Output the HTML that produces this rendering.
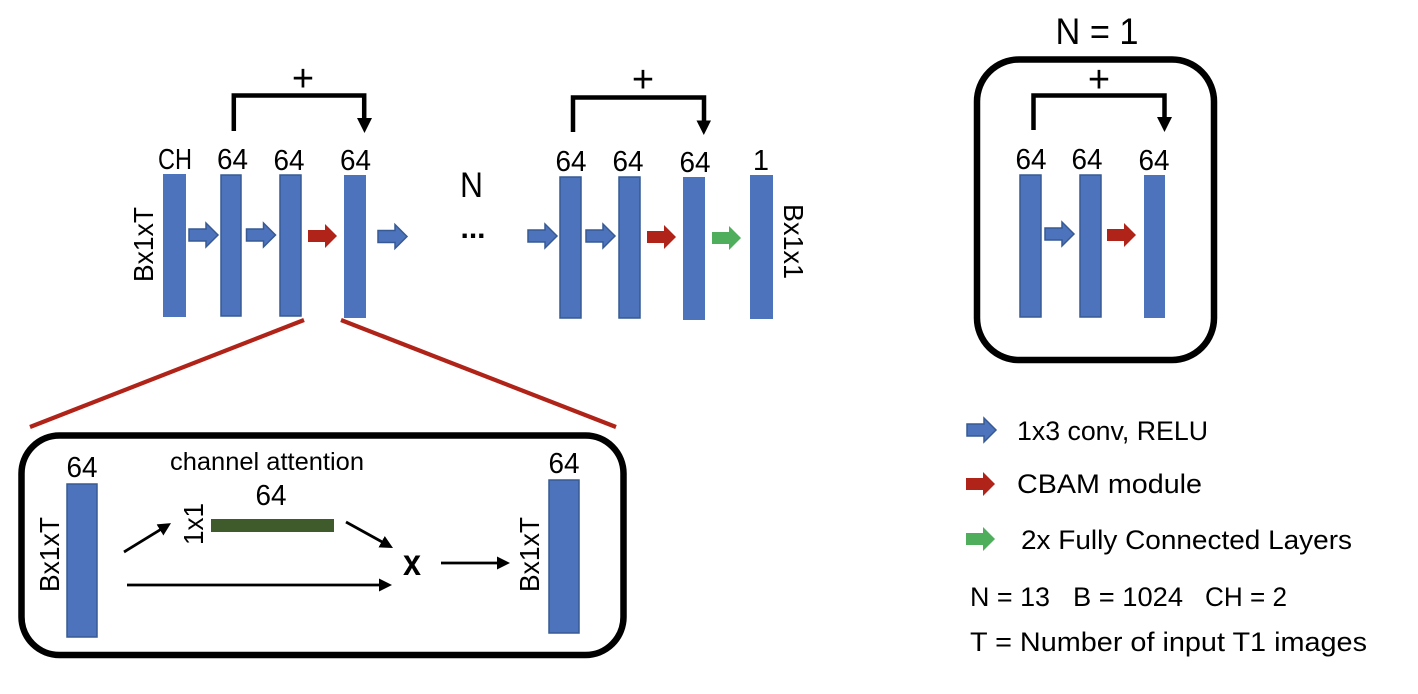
<!DOCTYPE html>
<html>
<head>
<meta charset="utf-8">
<style>
html,body{margin:0;padding:0;background:#fff;width:1418px;height:694px;overflow:hidden}
svg{display:block}
text{font-family:"Liberation Sans",sans-serif;fill:#000}
</style>
</head>
<body>
<svg width="1418" height="694" viewBox="0 0 1418 694" xmlns="http://www.w3.org/2000/svg">
<defs>
<polygon id="ar" points="0,-6 17,-6 17,-12 29,0 17,12 17,6 0,6"/>
<marker id="m" markerUnits="userSpaceOnUse" markerWidth="14" markerHeight="14" refX="5" refY="7" orient="auto"><path d="M0,0.5L13,7L0,13.500z" fill="#000"/></marker>
</defs>

<!-- bars -->
<g fill="#4e73bd">
<rect x="163" y="174" width="23" height="143"/>
<rect x="221" y="175" width="20" height="141" stroke="#375a94" stroke-width="1.5"/>
<rect x="280" y="175" width="21" height="141" stroke="#375a94" stroke-width="1.5"/>
<rect x="344" y="175" width="22" height="143"/>
<rect x="560" y="177" width="21" height="141" stroke="#375a94" stroke-width="1.5"/>
<rect x="619" y="177" width="21" height="141" stroke="#375a94" stroke-width="1.5"/>
<rect x="683" y="177" width="22" height="143"/>
<rect x="750" y="175" width="23" height="144"/>
<rect x="1020" y="175" width="21" height="142" stroke="#375a94" stroke-width="1.5"/>
<rect x="1080" y="175" width="21" height="142" stroke="#375a94" stroke-width="1.5"/>
<rect x="1144" y="175" width="21" height="143"/>
<rect x="67" y="484" width="30" height="153" stroke="#375a94" stroke-width="1.5"/>
<rect x="549" y="480" width="30" height="153" stroke="#375a94" stroke-width="1.5"/>
</g>
<rect x="211" y="519" width="123" height="13" fill="#3f5a2b"/>

<!-- block arrows -->
<g fill="#4e73bd" stroke="#375a94" stroke-width="1.5">
<use href="#ar" x="189" y="235"/>
<use href="#ar" x="246.500" y="235"/>
<use href="#ar" x="378" y="236.500"/>
<use href="#ar" x="528" y="236"/>
<use href="#ar" x="586" y="236"/>
<use href="#ar" x="1045" y="234"/>
<use href="#ar" x="967" y="430"/>
</g>
<g fill="#b02318">
<use href="#ar" x="308" y="236"/>
<use href="#ar" x="647" y="237"/>
<use href="#ar" x="1107" y="235"/>
<use href="#ar" x="966" y="484"/>
</g>
<g fill="#4fae5c">
<use href="#ar" x="712" y="238"/>
<use href="#ar" x="966" y="539"/>
</g>

<!-- skip brackets -->
<g fill="none" stroke="#000" stroke-width="4.500">
<path d="M233.800,131V95.500H364.200V120"/>
<path d="M573,132V97.500H704V122"/>
<path d="M1033.500,130V95.500H1164.500V119"/>
</g>
<polygon points="357,118 372,118 364.500,133" fill="#000"/>
<polygon points="696.500,120.500 711,120.500 703.800,135" fill="#000"/>
<polygon points="1157,117 1172,117 1164.500,132" fill="#000"/>

<!-- red zoom lines -->
<g stroke="#b02318" stroke-width="4.200">
<line x1="304" y1="320" x2="30" y2="427"/>
<line x1="341" y1="320" x2="616" y2="427"/>
</g>

<!-- rounded boxes -->
<g fill="none" stroke="#000" stroke-width="6.500">
<rect x="21.500" y="435.500" width="602" height="219.500" rx="38" ry="38"/>
<rect x="977" y="59.500" width="237" height="300.500" rx="42" ry="42"/>
</g>

<!-- thin arrows -->
<g stroke="#000" stroke-width="2.800" fill="none">
<line x1="124" y1="552" x2="164.200" y2="527.300" marker-end="url(#m)"/>
<line x1="346" y1="522" x2="386" y2="544.100" marker-end="url(#m)"/>
<line x1="127" y1="585" x2="384" y2="585" marker-end="url(#m)"/>
<line x1="441" y1="563" x2="502" y2="563" marker-end="url(#m)"/>
</g>

<!-- labels -->
<g font-size="29" text-anchor="middle">
<text x="175" y="169" textLength="34" lengthAdjust="spacingAndGlyphs">CH</text>
<text x="232.500" y="169" textLength="31" lengthAdjust="spacingAndGlyphs">64</text>
<text x="289" y="170" textLength="31" lengthAdjust="spacingAndGlyphs">64</text>
<text x="355.500" y="170" textLength="31" lengthAdjust="spacingAndGlyphs">64</text>
<text x="571" y="171" textLength="31" lengthAdjust="spacingAndGlyphs">64</text>
<text x="628" y="171" textLength="31" lengthAdjust="spacingAndGlyphs">64</text>
<text x="695" y="172" textLength="31" lengthAdjust="spacingAndGlyphs">64</text>
<text x="761" y="170">1</text>
<text x="1031" y="169" textLength="31" lengthAdjust="spacingAndGlyphs">64</text>
<text x="1087" y="169" textLength="31" lengthAdjust="spacingAndGlyphs">64</text>
<text x="1154" y="170" textLength="31" lengthAdjust="spacingAndGlyphs">64</text>
<text x="82" y="477" textLength="31" lengthAdjust="spacingAndGlyphs">64</text>
<text x="564" y="473" textLength="31" lengthAdjust="spacingAndGlyphs">64</text>
<text x="271" y="505" textLength="31" lengthAdjust="spacingAndGlyphs">64</text>
<text x="303" y="91" font-size="38">+</text>
<text x="643" y="92" font-size="38">+</text>
<text x="1099" y="92" font-size="38">+</text>
<text x="471.500" y="197" font-size="35" textLength="23" lengthAdjust="spacingAndGlyphs">N</text>
<text x="473" y="238" font-size="30" font-weight="bold">...</text>
<text x="1097" y="44" font-size="37" textLength="83" lengthAdjust="spacingAndGlyphs">N = 1</text>
<text x="412" y="575" font-size="37" font-weight="bold" textLength="18" lengthAdjust="spacingAndGlyphs">x</text>
</g>
<g font-size="28">
<text transform="translate(153,282) rotate(-90)" textLength="75" lengthAdjust="spacingAndGlyphs">Bx1xT</text>
<text transform="translate(784,204) rotate(90)" textLength="75" lengthAdjust="spacingAndGlyphs">Bx1x1</text>
<text transform="translate(59,592) rotate(-90)" textLength="75" lengthAdjust="spacingAndGlyphs">Bx1xT</text>
<text transform="translate(539,592) rotate(-90)" textLength="75" lengthAdjust="spacingAndGlyphs">Bx1xT</text>
<text transform="translate(203,545) rotate(-90)" textLength="42" lengthAdjust="spacingAndGlyphs">1x1</text>
</g>
<text x="170" y="470" font-size="25" textLength="194" lengthAdjust="spacingAndGlyphs">channel attention</text>
<g font-size="27">
<text x="1017" y="440" textLength="191" lengthAdjust="spacingAndGlyphs">1x3 conv, RELU</text>
<text x="1017" y="493" textLength="185" lengthAdjust="spacingAndGlyphs">CBAM module</text>
<text x="1021" y="549" textLength="331" lengthAdjust="spacingAndGlyphs">2x Fully Connected Layers</text>
<text x="970" y="606" textLength="80" lengthAdjust="spacingAndGlyphs">N = 13</text>
<text x="1073" y="606" textLength="110" lengthAdjust="spacingAndGlyphs">B = 1024</text>
<text x="1205" y="606" textLength="82" lengthAdjust="spacingAndGlyphs">CH = 2</text>
<text x="970" y="651" textLength="397" lengthAdjust="spacingAndGlyphs">T = Number of input T1 images</text>
</g>
</svg>
</body>
</html>
